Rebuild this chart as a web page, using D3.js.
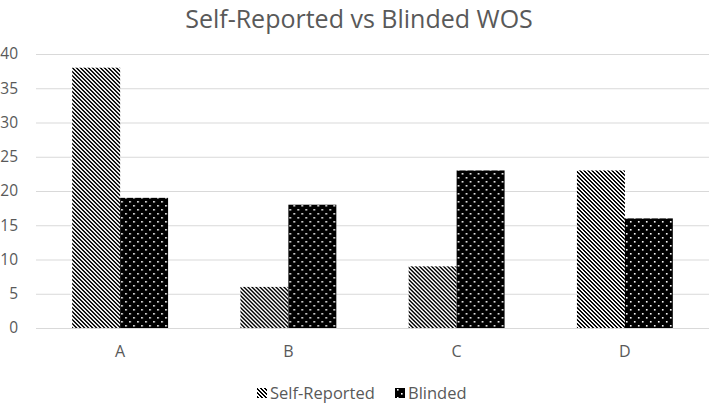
<!DOCTYPE html>
<html>
<head>
<meta charset="utf-8">
<script src="https://cdn.jsdelivr.net/npm/d3@7"></script>
<style>
  body { margin: 0; background: #fff; }
  text { font-family: "Open Sans", "Noto Sans", sans-serif; fill: #595959; }
</style>
</head>
<body>
<div id="viz"></div>
<script>
const categories = ['A', 'B', 'C', 'D'];
const seriesNames = ['Self-Reported', 'Blinded'];
const selfReported = [38, 6, 9, 23];
const blinded = [19, 18, 23, 16];
const yTickValues = [0, 5, 10, 15, 20, 25, 30, 35, 40];

const width = 709;
const height = 403;
const margin = { top: 54, right: 0, bottom: 75, left: 36 };

const rows = categories.map((c, i) => ({ cat: c, 'Self-Reported': selfReported[i], 'Blinded': blinded[i] }));

const svg = d3.select('#viz').append('svg')
  .attr('width', width)
  .attr('height', height);

const defs = svg.append('defs');

// wide downward diagonal
const diag = defs.append('pattern')
  .attr('id', 'pat-self')
  .attr('patternUnits', 'userSpaceOnUse')
  .attr('width', 4).attr('height', 4);
diag.append('rect').attr('width', 4).attr('height', 4).attr('fill', '#fff');
for (let y = 0; y < 4; y++) {
  for (let x = 0; x < 4; x++) {
    if (((x - y) % 4 + 4) % 4 < 2) {
      diag.append('rect').attr('x', x).attr('y', y).attr('width', 1).attr('height', 1).attr('fill', '#000');
    }
  }
}

// black with white dots
const dots = defs.append('pattern')
  .attr('id', 'pat-blind')
  .attr('patternUnits', 'userSpaceOnUse')
  .attr('width', 8).attr('height', 8);
dots.append('rect').attr('width', 8).attr('height', 8).attr('fill', '#000');
dots.append('rect').attr('x', 1).attr('y', 1).attr('width', 1.6).attr('height', 1.6).attr('fill', '#fff');
dots.append('rect').attr('x', 5).attr('y', 5).attr('width', 1.6).attr('height', 1.6).attr('fill', '#fff');

const fills = { 'Self-Reported': 'url(#pat-self)', 'Blinded': 'url(#pat-blind)' };

const x0 = d3.scaleBand()
  .domain(categories)
  .range([margin.left, width - margin.right])
  .paddingInner(0.43)
  .paddingOuter(0.215);

const x1 = d3.scaleBand()
  .domain(seriesNames)
  .range([0, x0.bandwidth()]);

const y = d3.scaleLinear()
  .domain([0, 40])
  .range([height - margin.bottom, margin.top]);

// gridlines
const yAxis = svg.append('g')
  .attr('transform', `translate(${margin.left},0)`)
  .call(d3.axisLeft(y).tickValues(yTickValues).tickSize(-(width - margin.left - margin.right)).tickPadding(18));
yAxis.select('.domain').remove();
yAxis.selectAll('.tick line').attr('stroke', '#d9d9d9').attr('stroke-width', 1);
yAxis.selectAll('.tick text')
  .attr('font-size', 15.5)
  .attr('fill', '#595959')
  .style('font-family', '"Open Sans", sans-serif');

// bars
svg.append('g')
  .selectAll('g').data(rows)
  .enter().append('g')
    .attr('transform', (d) => `translate(${x0(d.cat)},0)`)
  .selectAll('rect').data((d) => seriesNames.map((s) => ({ s, v: d[s] })))
  .enter().append('rect')
    .attr('x', (d) => x1(d.s))
    .attr('y', (d) => y(d.v))
    .attr('width', x1.bandwidth())
    .attr('height', (d) => y(0) - y(d.v))
    .attr('fill', (d) => fills[d.s]);

// x axis
const xAxis = svg.append('g')
  .attr('transform', `translate(0,${y(0)})`)
  .call(d3.axisBottom(x0).tickSize(0).tickPadding(18));
xAxis.select('.domain').attr('stroke', '#d9d9d9');
xAxis.selectAll('.tick text')
  .attr('font-size', 16)
  .attr('fill', '#595959')
  .style('font-family', '"Open Sans", sans-serif');

// title
svg.append('text')
  .attr('x', 359)
  .attr('y', 28)
  .attr('text-anchor', 'middle')
  .attr('font-size', 25)
  .text('Self-Reported vs Blinded WOS');

// legend
const legend = svg.append('g').attr('id', 'legend');
const legendX = [257, 395];
seriesNames.forEach((s, i) => {
  legend.append('rect')
    .attr('x', legendX[i]).attr('y', 388)
    .attr('width', 10).attr('height', 10)
    .attr('fill', fills[s]);
  legend.append('text')
    .attr('x', legendX[i] + 13).attr('y', 399)
    .attr('font-size', 16.5)
    .text(s);
});
</script>
</body>
</html>
